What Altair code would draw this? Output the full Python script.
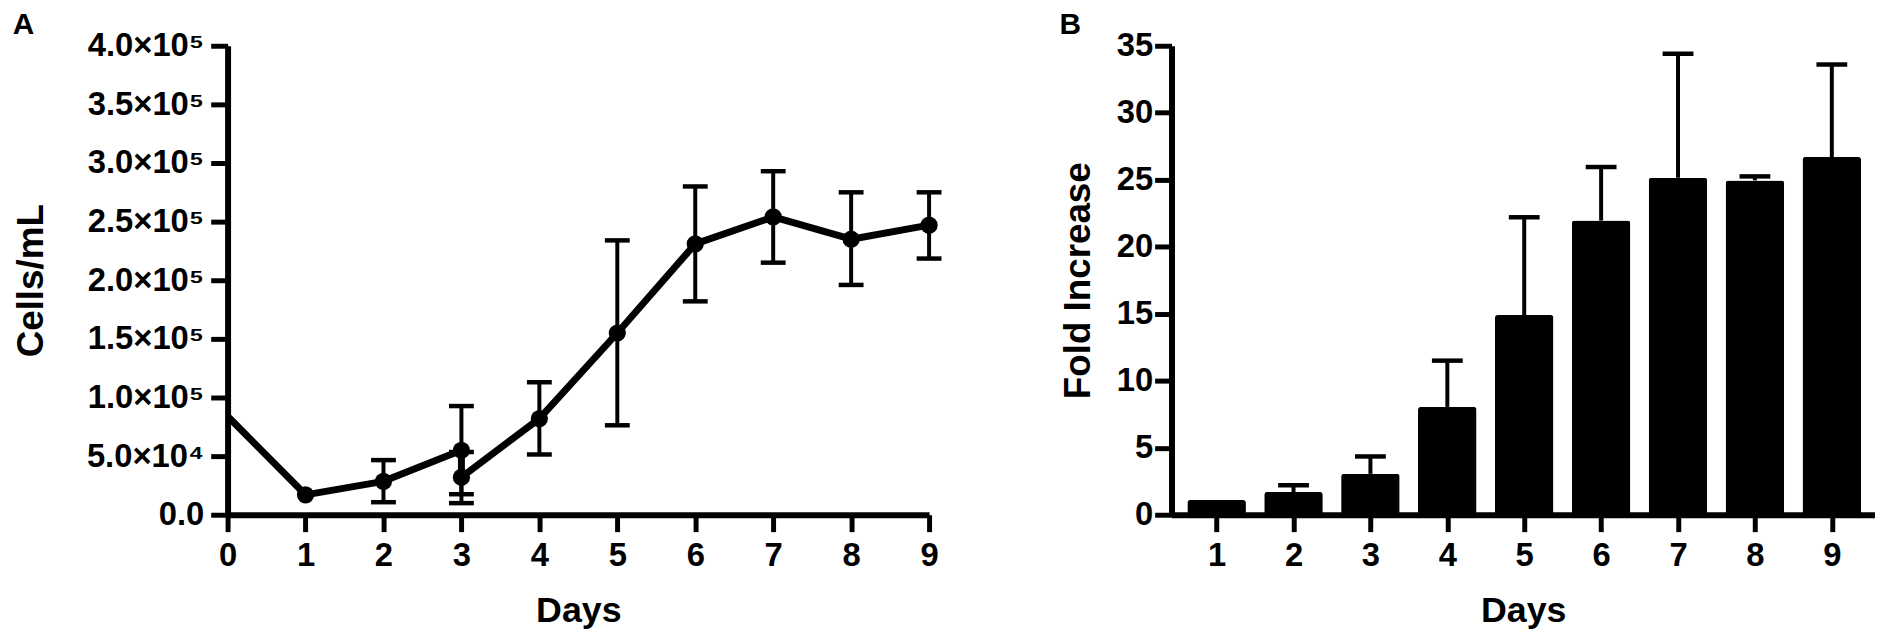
import altair as alt
import pandas as pd

# ---------------- Panel A data ----------------
line_days = [0, 1, 2, 3, 3, 4, 5, 6, 7, 8, 9]
line_cells = [84000, 17000, 28500, 55000, 32000, 82000, 155000, 231000, 254000, 235000, 247000]

pt_days = [1, 2, 3, 3, 4, 5, 6, 7, 8, 9]
pt_cells = [17000, 28500, 55000, 32000, 82000, 155000, 231000, 254000, 235000, 247000]
err_days = [2, 3, 3, 4, 5, 6, 7, 8, 9]
err_lo = [10700, 17500, 9900, 51400, 76300, 182000, 215000, 196000, 218500]
err_hi = [46600, 92700, 53500, 113000, 234000, 280000, 293000, 275000, 275000]

a_y_ticks = [0, 50000, 100000, 150000, 200000, 250000, 300000, 350000, 400000]
a_x_ticks = [0, 1, 2, 3, 4, 5, 6, 7, 8, 9]

# ---------------- Panel B data ----------------
bar_days = [1, 2, 3, 4, 5, 6, 7, 8, 9]
fold = [1.1, 1.7, 3.05, 8.05, 14.9, 21.95, 25.15, 24.95, 26.7]
bar_err_days = [2, 3, 4, 5, 6, 7, 8, 9]
bar_err_lo = [1.7, 3.05, 8.05, 14.9, 21.95, 25.15, 24.95, 26.7]
bar_err_hi = [2.2, 4.35, 11.5, 22.2, 25.95, 34.4, 25.25, 33.6]
b_y_ticks = [0, 5, 10, 15, 20, 25, 30, 35]
b_x_domain = [0.478, 9.497]

FONT = "Liberation Sans, Arial, Helvetica, sans-serif"

df_line = pd.DataFrame({"idx": list(range(len(line_days))), "day": line_days, "cells": line_cells})
df_pt = pd.DataFrame({"day": pt_days, "cells": pt_cells})
df_err = pd.DataFrame({"day": err_days, "lo": err_lo, "hi": err_hi})

df_bar = pd.DataFrame({"day": bar_days, "fold": fold})
df_berr = pd.DataFrame({"day": bar_err_days, "lo": bar_err_lo, "hi": bar_err_hi})

PW, PH = 706, 472
LABEL_FS = 33

xA = alt.X("day:Q", scale=alt.Scale(domain=[0, 9], nice=False),
           axis=alt.Axis(values=a_x_ticks, format="d", title="Days", labelFlush=False,
                         labelFontSize=LABEL_FS, labelPadding=8, titlePadding=21, titleFontSize=36))
yA_axis = alt.Axis(values=a_y_ticks, title="Cells/mL", labelFlush=False,
                   labelFontSize=LABEL_FS, labelPadding=7, titlePadding=36,
                   labelExpr="datum.value == 0 ? '0.0' : (datum.value < 100000 ? format(datum.value/10000, '.1f') + '×10⁴' : format(datum.value/100000, '.1f') + '×10⁵')")
yA_scale = alt.Scale(domain=[0, 400000], nice=False)

lineA = alt.Chart(df_line).mark_line(color="black", strokeWidth=7, strokeJoin="round").encode(
    x=xA, y=alt.Y("cells:Q", scale=yA_scale, axis=yA_axis), order="idx:Q")
ruleA = alt.Chart(df_err).mark_rule(color="black", strokeWidth=4).encode(
    x="day:Q", y="lo:Q", y2="hi:Q")
capHiA = alt.Chart(df_err).mark_tick(color="black", orient="horizontal", size=25, thickness=4.5, opacity=1).encode(
    x="day:Q", y="hi:Q")
capLoA = alt.Chart(df_err).mark_tick(color="black", orient="horizontal", size=25, thickness=4.5, opacity=1).encode(
    x="day:Q", y="lo:Q")
ptA = alt.Chart(df_pt).mark_circle(color="black", size=300, opacity=1).encode(
    x="day:Q", y="cells:Q")

chartA = alt.layer(ruleA, capHiA, capLoA, lineA, ptA).properties(
    width=PW, height=PH,
    title=alt.TitleParams("A", anchor="start", frame="bounds", fontSize=30, font=FONT,
                          fontWeight="bold", color="black", offset=-10))

xB = alt.X("day:Q", scale=alt.Scale(domain=b_x_domain, nice=False, zero=False),
           axis=alt.Axis(values=bar_days, format="d", title="Days", labelFlush=False,
                         labelFontSize=LABEL_FS, labelPadding=8, titlePadding=21, titleFontSize=36))
yB_scale = alt.Scale(domain=[0, 35], nice=False)
yB_axis = alt.Axis(values=b_y_ticks, title="Fold Increase", labelFlush=False,
                   labelFontSize=LABEL_FS, labelPadding=2, titlePadding=19)

barsB = alt.Chart(df_bar).mark_bar(color="black", size=59, cornerRadius=3).encode(
    x=xB, y=alt.Y("fold:Q", scale=yB_scale, axis=yB_axis))
ruleB = alt.Chart(df_berr).mark_rule(color="black", strokeWidth=4).encode(
    x="day:Q", y="lo:Q", y2="hi:Q")
capB = alt.Chart(df_berr).mark_tick(color="black", orient="horizontal", size=31, thickness=4.5, opacity=1).encode(
    x="day:Q", y="hi:Q")

chartB = alt.layer(ruleB, capB, barsB).properties(
    width=708, height=PH,
    title=alt.TitleParams("B", anchor="start", frame="bounds", fontSize=30, font=FONT,
                          fontWeight="bold", color="black", offset=-10))

chart = alt.hconcat(chartA, chartB, spacing=118).properties(
    padding={"left": 4, "top": 0, "right": 0, "bottom": 0}
).configure_view(
    stroke=None
).configure_axis(
    grid=False,
    domainColor="black", domainWidth=6,
    tickColor="black", tickWidth=5, tickSize=17,
    labelFont=FONT, labelFontWeight="bold", labelColor="black",
    titleFont=FONT, titleFontWeight="bold", titleColor="black", titleFontSize=37,
    labelOverlap=False,
)

chart.save("out.html", embed_options={"renderer": "svg", "actions": False})
